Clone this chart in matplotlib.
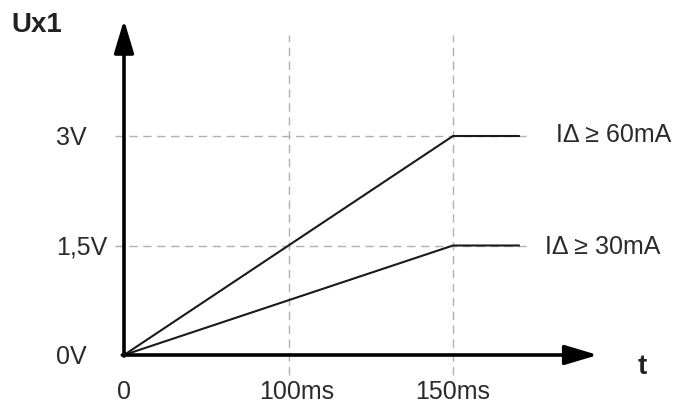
import matplotlib
matplotlib.use("Agg")
import matplotlib.pyplot as plt

plt.rcParams['font.family'] = ['Liberation Sans', 'DejaVu Sans']

# schematic time axis: tick index -> label
tick_pos = [0, 1, 2]
tick_labels = ["0", "100ms", "150ms"]
volt_ticks = [0, 1.5, 3]
volt_labels = ["0V", "1,5V", "3V"]

# curves (x = schematic time position, y = volts)
t_pts = [0, 2, 2.4]
u_60 = [0, 3, 3]
u_30 = [0, 1.5, 1.5]
curve_labels = ["I\u0394 \u2265 60mA", "I\u0394 \u2265 30mA"]

fig = plt.figure(figsize=(6.78, 4.03), dpi=100)
ax = fig.add_axes([0, 0, 1, 1])
ax.set_xlim(-124 / 164.5, (678 - 124) / 164.5)
ax.set_ylim(-(403 - 355) / 73, 355 / 73)
ax.axis('off')

grid_kw = dict(color='#b0b0b0', lw=1.0, ls=(0, (6, 4)), zorder=1)
for v in volt_ticks[1:]:
    ax.plot([-0.055, 2.45], [v, v], **grid_kw)
for p in tick_pos[1:]:
    ax.plot([p, p], [-0.27, 4.38], **grid_kw)

ax.plot(t_pts, u_60, color='#1a1a1a', lw=1.5, zorder=3)
ax.plot(t_pts, u_30, color='#1a1a1a', lw=1.5, zorder=3)

arrow = dict(arrowstyle='-|>,head_length=1.0,head_width=0.3', lw=2.6,
             color='black', shrinkA=0, shrinkB=0, mutation_scale=20)
ax.annotate('', xy=(2.88, 0), xytext=(-0.01, 0), arrowprops=arrow, zorder=4)
ax.annotate('', xy=(0, 4.59), xytext=(0, -0.015), arrowprops=arrow, zorder=4)

fs = 18
txt = '#2a2a2a'
for v, lab in zip(volt_ticks, volt_labels):
    ax.text(-0.413, v - 0.03, lab, ha='left', va='center', fontsize=fs, color=txt)
for p, lab in zip(tick_pos, tick_labels):
    ax.text(p + (0.05 if p == 1 else 0), -0.51, lab, ha='center', va='center',
            fontsize=fs, color=txt)

ax.text(2.626, 3.02, curve_labels[0], ha='left', va='center', fontsize=fs, color=txt)
ax.text(2.56, 1.48, curve_labels[1], ha='left', va='center', fontsize=fs, color=txt)

ax.text(-0.685, 4.52, "Ux1", ha='left', va='center', fontsize=20, fontweight='bold', color='#222222')
ax.text(3.12, -0.17, "t", ha='left', va='center', fontsize=20, fontweight='bold', color='#222222')

fig.savefig("out.png", dpi=100)
